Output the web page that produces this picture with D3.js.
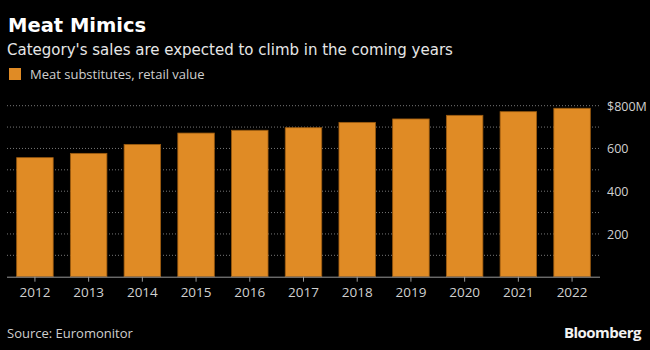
<!DOCTYPE html>
<html>
<head>
<meta charset="utf-8">
<script src="https://cdn.jsdelivr.net/npm/d3@7"></script>
<style>
  body { margin: 0; background: #000; }
  svg { display: block; }
</style>
</head>
<body>
<svg id="drawing_region"></svg>
<script>
const years = ['2012', '2013', '2014', '2015', '2016', '2017', '2018', '2019', '2020', '2021', '2022'];
const retailValue = [557, 577, 619, 672, 685, 697, 722, 738, 755, 772, 788];
const yTicks = [100, 200, 300, 400, 500, 600, 700, 800];
const yLabels = [200, 400, 600, 800];

const width = 650, height = 350;
const font = "'Open Sans', 'DejaVu Sans', sans-serif";
const wideFont = "'DejaVu Sans', 'Open Sans', sans-serif";

const svg = d3.select('#drawing_region')
    .attr('width', width)
    .attr('height', height)
    .style('font-family', font);

svg.append('rect').attr('width', width).attr('height', height).attr('fill', '#000');

// titles
svg.append('text')
    .attr('x', 8).attr('y', 32)
    .attr('fill', '#fff')
    .attr('font-size', 19.5)
    .attr('font-weight', 'bold')
    .attr('font-family', wideFont)
    .text('Meat Mimics');

svg.append('text')
    .attr('x', 7).attr('y', 55)
    .attr('fill', '#e6e6e6')
    .attr('font-size', 15)
    .attr('font-family', wideFont)
    .text("Category's sales are expected to climb in the coming years");

// legend
svg.append('rect')
    .attr('x', 9).attr('y', 68)
    .attr('width', 12).attr('height', 12)
    .attr('fill', '#e08b25');
svg.append('text')
    .attr('x', 30).attr('y', 79)
    .attr('fill', '#cfcfcf')
    .attr('font-size', 13)
    .text('Meat substitutes, retail value');

const x = d3.scaleBand()
    .domain(years)
    .range([7, 600])
    .paddingInner(0.32)
    .paddingOuter(0.18);

const y = d3.scaleLinear()
    .domain([0, 800])
    .range([276.7, 105.7]);

// dotted grid
svg.append('g')
    .selectAll('line')
    .data(yTicks)
    .join('line')
    .attr('x1', 7).attr('x2', 600)
    .attr('y1', d => y(d)).attr('y2', d => y(d))
    .attr('stroke', '#777')
    .attr('stroke-width', 1)
    .attr('stroke-dasharray', '1,2');

// bars
svg.append('g')
    .selectAll('rect')
    .data(retailValue)
    .join('rect')
    .attr('x', (d, i) => x(years[i]))
    .attr('y', d => y(d))
    .attr('width', x.bandwidth())
    .attr('height', d => y(0) - y(d))
    .attr('fill', '#e08b25')
    .attr('stroke', '#9a5a10')
    .attr('stroke-width', 0.8);

// x axis
const xaxis = d3.axisBottom(x).tickSize(5).tickSizeOuter(0).tickPadding(6);
const xg = svg.append('g')
    .attr('transform', `translate(0, ${y(0)})`)
    .call(xaxis);
xg.select('.domain').attr('stroke', '#999').attr('d', 'M7,0.5H600');
xg.selectAll('.tick line').attr('stroke', '#999');
xg.selectAll('.tick text')
    .attr('fill', '#d0d0d0')
    .attr('font-size', 13.5)
    .attr('font-family', font);

// y labels on the right
svg.append('g')
    .selectAll('text')
    .data(yLabels)
    .join('text')
    .attr('x', 607)
    .attr('y', d => y(d) + 5)
    .attr('fill', '#d0d0d0')
    .attr('font-size', 12.5)
    .text(d => d === 800 ? '$800M' : d);

// footer
svg.append('text')
    .attr('x', 7).attr('y', 338)
    .attr('fill', '#cfcfcf')
    .attr('font-size', 13)
    .text('Source: Euromonitor');

svg.append('text')
    .attr('x', 641).attr('y', 338)
    .attr('text-anchor', 'end')
    .attr('fill', '#f2f2f2')
    .attr('font-size', 15)
    .attr('font-weight', 'bold')
    .attr('letter-spacing', -0.5)
    .text('Bloomberg');
</script>
</body>
</html>
